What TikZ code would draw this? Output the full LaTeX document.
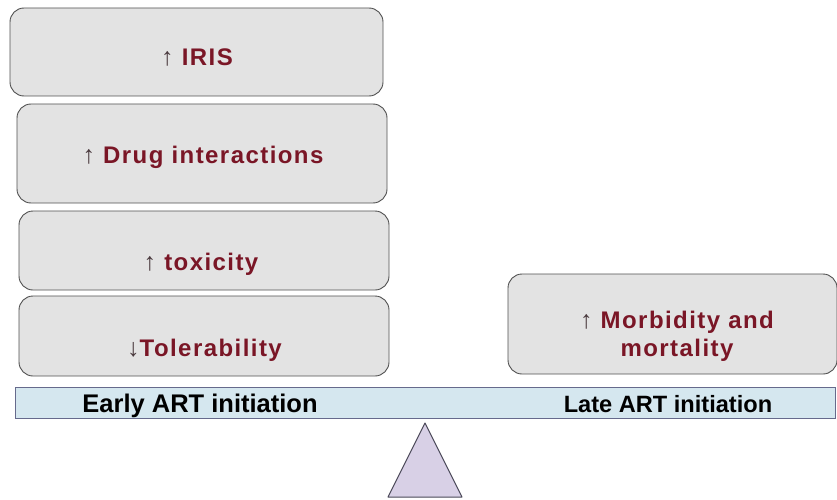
\documentclass[tikz,border=0pt]{standalone}
\usepackage{fontspec}
\setmainfont{Liberation Sans}
\newfontfamily\spfont[LetterSpace=6]{Liberation Sans}
\definecolor{txtred}{HTML}{7A1626}
\definecolor{boxfill}{HTML}{E3E3E3}
\definecolor{boxline}{HTML}{505050}
\definecolor{barfill}{HTML}{D5E7EF}
\definecolor{barline}{HTML}{666A8C}
\definecolor{trifill}{HTML}{D8D0E6}
\definecolor{triline}{HTML}{4A4858}
\definecolor{arrcol}{HTML}{4A3A3E}
\newcommand{\upar}{{\fontsize{25}{20}\selectfont\color{arrcol}\mdseries↑}}
\newcommand{\dnar}{{\fontsize{25}{20}\selectfont\color{arrcol}\mdseries↓}}
\begin{document}
\begin{tikzpicture}[x=1pt,y=-1pt,
  effbox/.style={draw=boxline,fill=boxfill,line width=0.9pt,rounded corners=14pt,inner sep=0pt},
  efftext/.style={font=\spfont\bfseries\fontsize{24}{28}\selectfont,text=txtred,align=center,inner sep=0pt,anchor=base},
  bartext/.style={font=\bfseries\fontsize{25.5}{28}\selectfont,text=black,inner sep=0pt,anchor=base}]
\useasboundingbox (0,0) rectangle (837,500);
% boxes
\node[effbox,minimum width=373pt,minimum height=88pt] (iris) at (196.5,52) {};
\node[effbox,minimum width=370pt,minimum height=99pt] (drug) at (202,153.5) {};
\node[effbox,minimum width=370pt,minimum height=79pt] (tox) at (204,250.5) {};
\node[effbox,minimum width=370pt,minimum height=80pt] (tol) at (204,336) {};
\node[effbox,minimum width=329pt,minimum height=100pt] (morb) at (672.5,324) {};
% texts
\node[efftext] (tiris) at (197,66) {\upar\ IRIS};
\node[efftext] (tdrug) at (203,163) {\upar\ Drug interactions};
\node[efftext] (ttox) at (201,270) {\upar\ toxicity};
\node[efftext] (ttol) at (204.5,356) {\dnar Tolerability};
\node[efftext] (tmorb) at (677,356) {\upar\ Morbidity and\\mortality};
% bar
\node[draw=barline,fill=barfill,line width=1pt,minimum width=820pt,minimum height=31pt,inner sep=0pt] (bar) at (425,402.5) {};
\node[bartext] (early) at (200,412) {Early ART initiation};
\node[bartext,font=\bfseries\fontsize{23.6}{26}\selectfont] (late) at (668,412) {Late ART initiation};
% fulcrum
\coordinate (apex) at (425,423);
\coordinate (bl) at (388,497);
\coordinate (br) at (462,497);
\draw[draw=triline,fill=trifill,line width=1pt,line join=round] (apex) -- (bl) -- (br) -- cycle;
\end{tikzpicture}
\end{document}
